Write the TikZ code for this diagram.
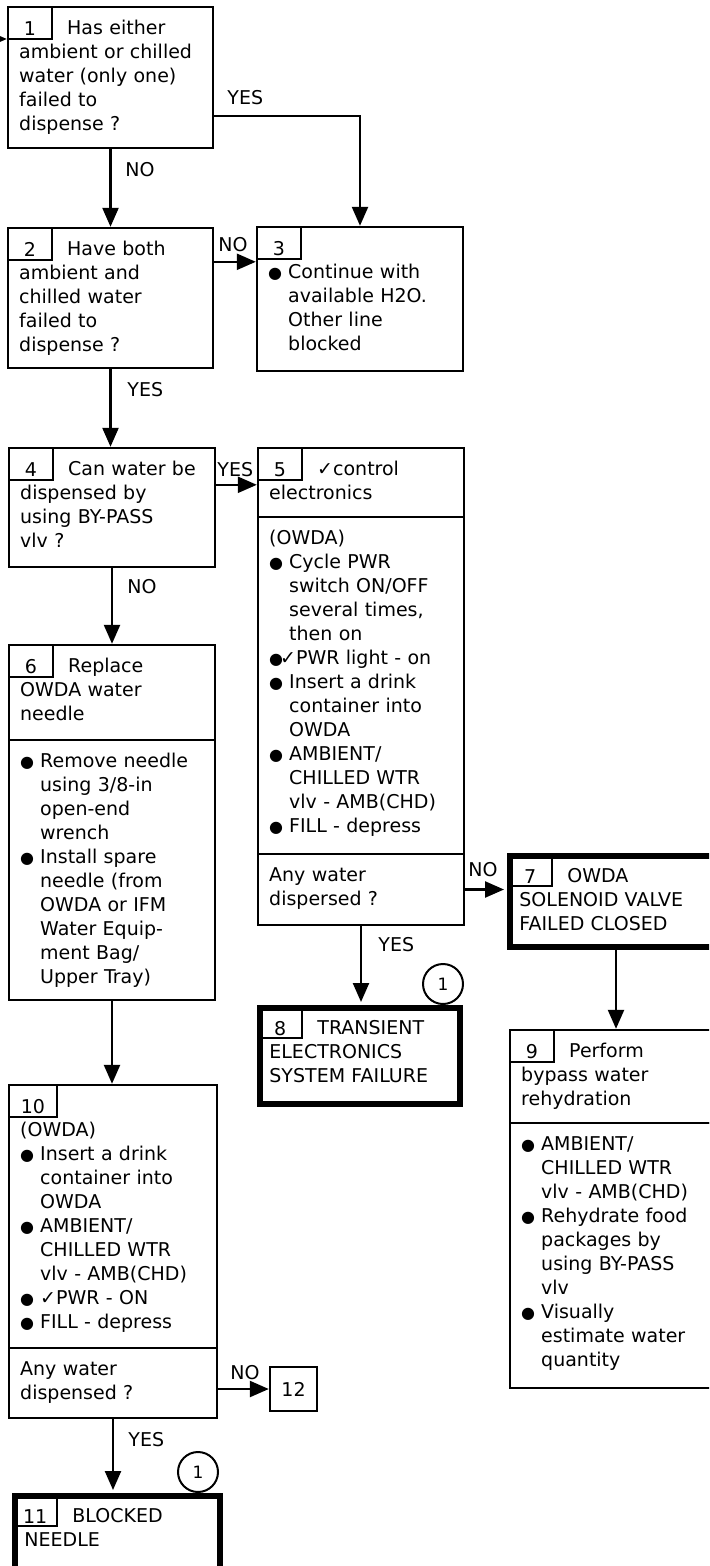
\documentclass[tikz,border=0pt]{standalone}
\usepackage{fontspec}
\setmainfont{DejaVu Sans}
\usetikzlibrary{arrows.meta,positioning,fit,calc}
\newcommand{\flsize}{\fontsize{9.5}{12}\selectfont}
\newcommand{\dotsym}{{\fontsize{8}{8}\selectfont ●}}
\newcommand{\bdot}{\makebox[10pt][l]{\dotsym}}
\newcommand{\bind}{\hspace*{10pt}}
\newcommand{\tabgap}{\hspace*{24pt}}
\tikzset{
  >={Triangle[length=9.5pt,width=8pt]},
  box/.style={draw, line width=1.2pt, inner sep=0pt},
  fail/.style={draw, line width=3pt, inner sep=0pt},
  tab/.style={draw, line width=1.1pt, anchor=north west, minimum width=22pt,
              inner xsep=0pt, inner ysep=1pt, text height=13.5pt, text depth=0.5pt, font=\flsize},
  txt/.style={anchor=base west, inner sep=0pt, text width=104pt, align=left, font=\flsize},
  lbl/.style={anchor=west, inner sep=0pt, font=\flsize},
  ref/.style={draw, circle, line width=1pt, minimum size=20pt, inner sep=0pt,
              font=\fontsize{8.5}{10}\selectfont},
  flow/.style={->, line width=1.2pt},
  tofail/.style={flow, shorten >=1.5pt},
}

\begin{document}
\begin{tikzpicture}[x=0.5pt,y=-0.5pt]
  \path[use as bounding box] (0,0) rectangle (709,1566);
  \clip (0,0) rectangle (709,1566);
  % boxes
  \node[box,fit={(8,7) (213,148)}] (b1) {};
  \node[box,fit={(8,228) (213,368)}] (b2) {};
  \node[box,fit={(257,227) (463,371)}] (b3) {};
  \node[box,fit={(9,448) (215,567)}] (b4) {};
  \node[box,fit={(258,448) (464,517)}] (b5a) {};
  \node[box,fit={(258,517) (464,854)}] (b5b) {};
  \node[box,fit={(258,854) (464,925)}] (b5c) {};
  \node[box,fit={(9,645) (215,740)}] (b6a) {};
  \node[box,fit={(9,740) (215,1000)}] (b6b) {};
  \node[fail,fit={(510,856) (722,947)}] (b7) {};
  \node[fail,fit={(260,1008) (460,1104)}] (b8) {};
  \node[box,fit={(510,1030) (722,1123)}] (b9a) {};
  \node[box,fit={(510,1123) (722,1388)}] (b9b) {};
  \node[box,fit={(9,1085) (217,1348)}] (b10a) {};
  \node[box,fit={(9,1348) (217,1418)}] (b10b) {};
  \node[fail,fit={(15,1496) (220,1620)}] (b11) {};
  \node[box,minimum width=23.5pt,minimum height=22pt,font=\flsize] (b12) at (293.5,1389) {12};
  % number tabs
  \foreach \b/\n in {b1/1,b2/2,b3/3,b4/4,b5a/5,b6a/6,b7/7,b8/8,b9a/9,b11/11}{\node[tab] (n\n) at (\b.north west) {\n};}
  \node[tab,minimum width=24pt] (n10) at (b10a.north west) {10};
  % texts
  \node[txt] (t1) at ($(b1.north west)+(12,29)$) {\tabgap Has either\\ambient or chilled\\water (only one)\\failed to\\dispense ?};
  \node[txt] (t2) at ($(b2.north west)+(12,29)$) {\tabgap Have both\\ambient and\\chilled water\\failed to\\dispense ?};
  \node[txt] (t3) at ($(b3.north west)+(12,29)$) {\mbox{}\\\bdot Continue with\\\bind available H2O.\\\bind Other line\\\bind blocked};
  \node[txt] (t4) at ($(b4.north west)+(12,29)$) {\tabgap Can water be\\dispensed by\\using BY-PASS\\vlv ?};
  \node[txt] (t5a) at ($(b5a.north west)+(12,29)$) {\tabgap ✓control\\electronics};
  \node[txt] (t5b) at ($(b5b.north west)+(12,29)$) {(OWDA)\\\bdot Cycle PWR\\\bind switch ON/OFF\\\bind several times,\\\bind then on\\\makebox[5.5pt][l]{\dotsym}✓PWR light - on\\\bdot Insert a drink\\\bind container into\\\bind OWDA\\\bdot AMBIENT/\\\bind CHILLED WTR\\\bind vlv - AMB(CHD)\\\bdot FILL - depress};
  \node[txt] (t5c) at ($(b5c.north west)+(12,29)$) {Any water\\dispersed ?};
  \node[txt] (t6a) at ($(b6a.north west)+(12,29)$) {\tabgap Replace\\OWDA water\\needle};
  \node[txt] (t6b) at ($(b6b.north west)+(12,29)$) {\bdot Remove needle\\\bind using 3/8-in\\\bind open-end\\\bind wrench\\\bdot Install spare\\\bind needle (from\\\bind OWDA or IFM\\\bind Water Equip-\\\bind ment Bag/\\\bind Upper Tray)};
  \node[txt] (t7) at ($(b7.north west)+(12,29)$) {\tabgap OWDA\\SOLENOID VALVE\\FAILED CLOSED};
  \node[txt] (t8) at ($(b8.north west)+(12,29)$) {\tabgap TRANSIENT\\ELECTRONICS\\SYSTEM FAILURE};
  \node[txt] (t9a) at ($(b9a.north west)+(12,29)$) {\tabgap Perform\\bypass water\\rehydration};
  \node[txt] (t9b) at ($(b9b.north west)+(12,29)$) {\bdot AMBIENT/\\\bind CHILLED WTR\\\bind vlv - AMB(CHD)\\\bdot Rehydrate food\\\bind packages by\\\bind using BY-PASS\\\bind vlv\\\bdot Visually\\\bind estimate water\\\bind quantity};
  \node[txt] (t10a) at ($(b10a.north west)+(12,29)$) {\mbox{}\\(OWDA)\\\bdot Insert a drink\\\bind container into\\\bind OWDA\\\bdot AMBIENT/\\\bind CHILLED WTR\\\bind vlv - AMB(CHD)\\\bdot ✓PWR - ON\\\bdot FILL - depress};
  \node[txt] (t10b) at ($(b10b.north west)+(12,29)$) {Any water\\dispensed ?};
  \node[txt] (t11) at ($(b11.north west)+(12,29)$) {\tabgap BLOCKED\\NEEDLE};
  % references
  \node[ref] (r8) at (443,984) {1};
  \node[ref] (r11) at (198,1472) {1};
  % connectors
  \coordinate (in1) at (-20,39);
  \draw[flow] (in1) -- (in1 -| b1.west);
  \draw[flow] ($(b1.south east)+(0,-33)$) -| (b3.north);
  \draw[flow] (b1.south) -- (b1.south |- b2.north);
  \draw[flow] ($(b2.north east)+(0,35)$) coordinate (n23) -- (n23 -| b3.west);
  \draw[flow] (b2.south) -- (b2.south |- b4.north);
  \draw[flow] ($(b4.north east)+(0,38)$) coordinate (n45) -- (n45 -| b5a.west);
  \draw[flow] (b4.south) -- (b4.south |- b6a.north);
  \draw[tofail] (b5c.east) -- (b5c.east -| b7.west);
  \draw[tofail] (b5c.south) -- (b5c.south |- b8.north);
  \draw[flow] (b7.south) -- (b7.south |- b9a.north);
  \draw[flow] (b6b.south) -- (b6b.south |- b10a.north);
  \draw[flow] (b10b.east |- b12.west) -- (b12.west);
  \draw[tofail] (b10b.south) -- (b10b.south |- b11.north);
  % labels
  \node[lbl] (y13) at (227,98) {YES};
  \node[lbl] (n12) at (125,170) {NO};
  \node[lbl] (n23l) at (218,245) {NO};
  \node[lbl] (y24) at (127,390) {YES};
  \node[lbl] (y45) at (217,470) {YES};
  \node[lbl] (n46) at (127,587) {NO};
  \node[lbl] (n57) at (468,870) {NO};
  \node[lbl] (y58) at (378,945) {YES};
  \node[lbl] (n1012) at (230,1373) {NO};
  \node[lbl] (y1011) at (128,1440) {YES};
\end{tikzpicture}
\end{document}
